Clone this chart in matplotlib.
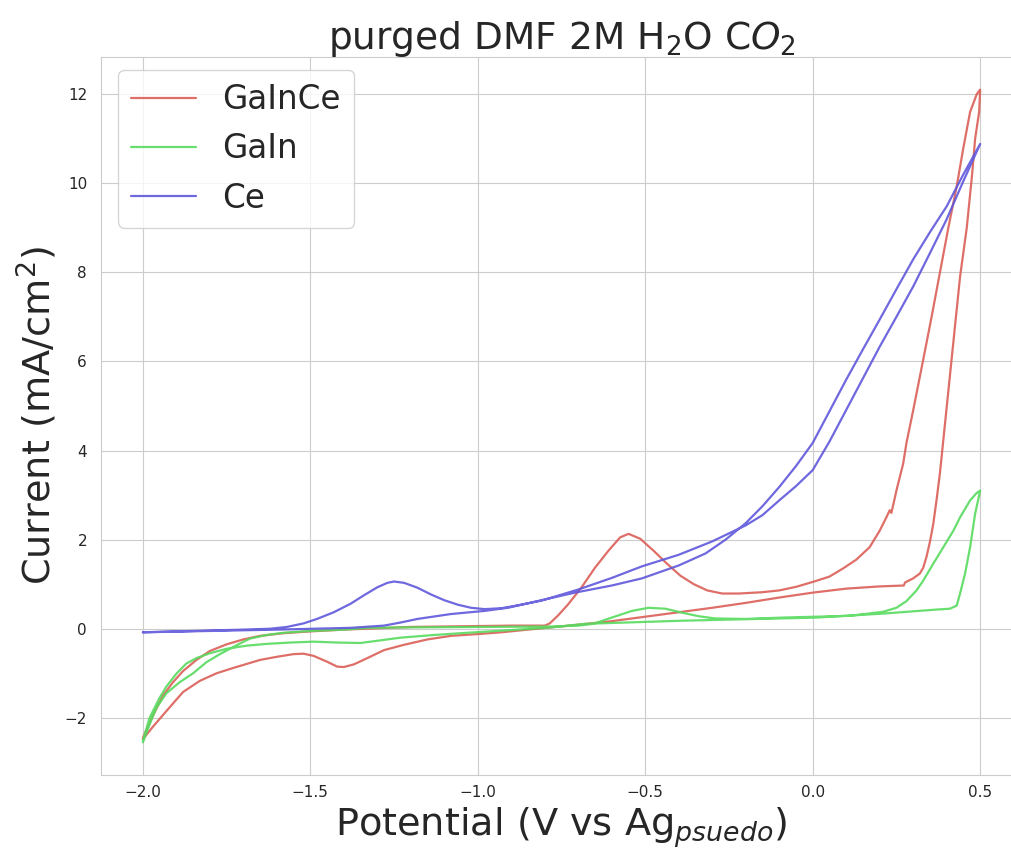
import matplotlib
matplotlib.use("Agg")
import matplotlib.pyplot as plt
import seaborn as sns

sns.set_style("whitegrid")
plt.rcParams['font.family'] = ['DejaVu Sans']

labels = ["GaInCe", "GaIn", "Ce"]

# GaInCe: forward scan then reverse scan (V, mA/cm2)
gaince_v = [-2.0, -1.97, -1.94, -1.91, -1.88, -1.84, -1.8, -1.75, -1.7, -1.65, -1.58, -1.5,
            -1.4, -1.3, -1.2, -1.0, -0.9, -0.8, -0.785, -0.76, -0.73, -0.69, -0.65, -0.61,
            -0.575, -0.55, -0.515, -0.475, -0.435, -0.395, -0.355, -0.315, -0.27, -0.22,
            -0.15, -0.1, -0.05, 0.0, 0.05, 0.09, 0.13, 0.17, 0.2, 0.22, 0.23, 0.235, 0.25,
            0.27, 0.28, 0.3, 0.33, 0.355, 0.38, 0.405, 0.43, 0.45, 0.47, 0.49, 0.5,
            0.497, 0.485, 0.476, 0.46, 0.44, 0.425, 0.41, 0.395, 0.38, 0.37, 0.36, 0.35,
            0.34, 0.33, 0.32, 0.30, 0.276, 0.272, 0.2, 0.1, 0.0, -0.1, -0.2, -0.3, -0.4,
            -0.51, -0.6, -0.7, -0.81, -0.93, -1.0, -1.08, -1.15, -1.22, -1.28, -1.33, -1.37,
            -1.40, -1.42, -1.45, -1.49, -1.52, -1.55, -1.6, -1.65, -1.73, -1.78, -1.83,
            -1.88, -1.93, -1.97, -2.0]
gaince_i = [-2.45, -1.95, -1.5, -1.2, -0.95, -0.7, -0.5, -0.35, -0.24, -0.16, -0.1, -0.06,
            -0.02, 0.01, 0.04, 0.06, 0.07, 0.07, 0.12, 0.3, 0.55, 0.93, 1.37, 1.75,
            2.05, 2.13, 2.02, 1.75, 1.46, 1.19, 1.0, 0.86, 0.79, 0.79,
            0.82, 0.86, 0.94, 1.05, 1.17, 1.35, 1.55, 1.83, 2.2, 2.5, 2.66, 2.6, 3.1,
            3.7, 4.17, 4.9, 6.04, 7.0, 8.0, 9.0, 9.93, 10.8, 11.6, 12.0, 12.1,
            11.6, 11.0, 10.2, 9.0, 7.9, 6.8, 5.7, 4.6, 3.5, 2.9, 2.35, 1.95,
            1.62, 1.37, 1.24, 1.13, 1.04, 0.97, 0.95, 0.9, 0.81, 0.7, 0.58, 0.47, 0.37,
            0.26, 0.17, 0.09, 0.01, -0.08, -0.12, -0.16, -0.24, -0.36, -0.48, -0.66, -0.8,
            -0.86, -0.85, -0.74, -0.61, -0.56, -0.57, -0.63, -0.7, -0.88, -1.0, -1.17,
            -1.42, -1.85, -2.2, -2.48]

# GaIn
gain_v = [-2.0, -1.98, -1.96, -1.93, -1.89, -1.85, -1.81, -1.77, -1.72, -1.68, -1.63, -1.58,
          -1.5, -1.4, -1.33, -1.2, -1.0, -0.78, -0.7, -0.655, -0.62, -0.58, -0.54, -0.49,
          -0.44, -0.39, -0.34, -0.29, -0.2, -0.09, 0.11, 0.21, 0.25, 0.28, 0.31, 0.33,
          0.36, 0.39, 0.42, 0.44, 0.47, 0.49, 0.5, 0.485, 0.47, 0.455, 0.44, 0.43, 0.41,
          0.37, 0.21, 0.01, -0.39, -0.68, -0.78, -0.9, -1.03, -1.13, -1.23, -1.3, -1.35,
          -1.42, -1.49, -1.56, -1.63, -1.69, -1.75, -1.8, -1.84, -1.87, -1.9, -1.93, -1.95,
          -1.98, -2.0]
gain_i = [-2.55, -2.15, -1.78, -1.45, -1.2, -1.0, -0.75, -0.57, -0.37, -0.22, -0.14, -0.09,
          -0.05, -0.02, 0.02, 0.03, 0.04, 0.05, 0.07, 0.11, 0.2, 0.3, 0.4, 0.47,
          0.45, 0.36, 0.28, 0.23, 0.22, 0.25, 0.29, 0.38, 0.47, 0.62, 0.86, 1.08,
          1.46, 1.83, 2.2, 2.5, 2.88, 3.05, 3.1, 2.58, 1.83, 1.24, 0.79, 0.52, 0.45,
          0.43, 0.34, 0.25, 0.18, 0.11, 0.03, -0.03, -0.09, -0.14, -0.2, -0.27, -0.32,
          -0.31, -0.29, -0.31, -0.34, -0.38, -0.45, -0.55, -0.66, -0.78, -1.01, -1.3, -1.55,
          -2.0, -2.52]

# Ce
ce_v = [-2.0, -1.9, -1.8, -1.7, -1.62, -1.57, -1.52, -1.48, -1.43, -1.38, -1.34, -1.3,
        -1.27, -1.25, -1.22, -1.18, -1.14, -1.1, -1.06, -1.02, -0.98, -0.93, -0.87, -0.81,
        -0.7, -0.6, -0.51, -0.4, -0.3, -0.2, -0.15, -0.1, -0.05, 0.0, 0.05, 0.1, 0.15,
        0.2, 0.25, 0.3, 0.35, 0.4, 0.45, 0.5, 0.45, 0.4, 0.35, 0.3, 0.25, 0.2, 0.15, 0.1,
        0.05, 0.0, -0.05, -0.1, -0.15, -0.2, -0.26, -0.32, -0.4, -0.51, -0.6, -0.71,
        -0.81, -0.91, -0.98, -1.08, -1.18, -1.23, -1.28, -1.38, -1.6, -2.0]
ce_i = [-0.08, -0.06, -0.04, -0.02, 0.0, 0.04, 0.12, 0.22, 0.37, 0.56, 0.75, 0.93,
        1.03, 1.06, 1.03, 0.92, 0.77, 0.64, 0.54, 0.47, 0.44, 0.46, 0.54, 0.63,
        0.88, 1.14, 1.4, 1.66, 1.96, 2.32, 2.55, 2.88, 3.2, 3.56, 4.2, 4.91, 5.62,
        6.33, 7.0, 7.68, 8.43, 9.19, 10.05, 10.88, 10.2, 9.48, 8.9, 8.29, 7.62, 6.94, 6.27, 5.59,
        4.88, 4.17, 3.65, 3.18, 2.75, 2.37, 2.0, 1.69, 1.42, 1.13, 0.97, 0.81,
        0.64, 0.47, 0.4, 0.33, 0.22, 0.14, 0.07, 0.02, -0.02, -0.08]

colors = sns.color_palette("hls", 3)

fig = plt.figure(figsize=(10.11, 8.52), dpi=100)
ax = fig.add_axes([0.0999, 0.0904, 0.911, 0.8427])

for v, i, c, lab in zip([gaince_v, gain_v, ce_v], [gaince_i, gain_i, ce_i], colors, labels):
    ax.plot(v, i, color=c, lw=1.6, alpha=0.9, label=lab)

ax.set_title("purged DMF 2M H$_2$O C$O_2$", fontsize=27, color='.15')
ax.set_xlabel("Potential (V vs Ag$_{psuedo}$)", fontsize=27.5, color='.15')
ax.set_ylabel("Current (mA/cm$^2$)", fontsize=27.5, color='.15')
ax.tick_params(axis='both', labelsize=11, colors='.15', length=0)
ax.tick_params(axis='x', pad=7)
ax.tick_params(axis='y', pad=10)
ax.legend(loc='upper left', fontsize=23.5, borderaxespad=0,
          bbox_to_anchor=(0.0185, 0.982))

fig.savefig("out.png", dpi=100)
